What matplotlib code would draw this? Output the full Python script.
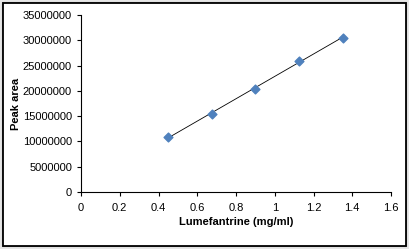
import numpy as np
import matplotlib.pyplot as plt
from matplotlib.patches import Rectangle

plt.rcParams['font.family'] = ['Liberation Sans', 'DejaVu Sans']

# calibration data
conc = [0.45, 0.675, 0.90, 1.125, 1.35]
area = [10950000, 15400000, 20400000, 25950000, 30550000]
xticks = [0, 0.2, 0.4, 0.6, 0.8, 1, 1.2, 1.4, 1.6]
yticks = [0, 5000000, 10000000, 15000000, 20000000, 25000000, 30000000, 35000000]

fig = plt.figure(figsize=(4.09, 2.49), dpi=100)
fig.patch.set_facecolor('#e6e6e6')
# white chart area with frame (behind the axes)
fig.patches.append(Rectangle((2/409, 3/249), 404/409, 244/249, transform=fig.transFigure,
                             facecolor='white', edgecolor='#888888', lw=0.8, zorder=-2))
fig.patches.append(Rectangle((3/409, 3/249), 403/409, 243/249, transform=fig.transFigure,
                             facecolor='none', edgecolor='black', lw=1.3, zorder=-1))

ax = fig.add_axes([81/409, 1 - 192/249, 310/409, 177/249])
ax.set_facecolor('none')

# linear trendline
k, b = np.polyfit(conc, area, 1)
xs = np.array([min(conc), max(conc)])
ax.plot(xs, k * xs + b, color='black', lw=0.6, zorder=2)
ax.scatter(conc, area, marker='D', s=20, color='#4f81bd', zorder=3)

ax.set_xlim(0, 1.6)
ax.set_ylim(0, 35000000)
ax.set_xticks(xticks)
ax.set_xticklabels([str(t) for t in xticks])
ax.set_yticks(yticks)
ax.set_yticklabels([str(t) for t in yticks])
ax.tick_params(labelsize=8, length=3, width=0.8, colors='black')
ax.tick_params(axis='x', pad=5)
ax.spines['top'].set_visible(False)
ax.spines['right'].set_visible(False)
ax.spines['left'].set_linewidth(0.8)
ax.spines['bottom'].set_linewidth(0.8)

ax.set_xlabel('Lumefantrine (mg/ml)', fontsize=8, fontweight='bold', labelpad=3)
ax.set_ylabel('Peak area', fontsize=8, fontweight='bold', labelpad=1)

fig.savefig('out.png', dpi=100, facecolor=fig.get_facecolor())
